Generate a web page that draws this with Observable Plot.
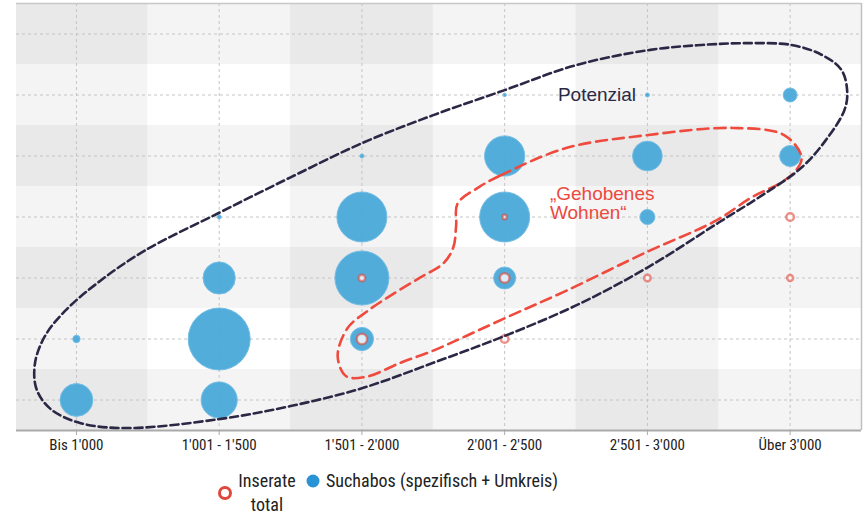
<!DOCTYPE html>
<html>
<head>
<meta charset="utf-8">
<script src="https://cdn.jsdelivr.net/npm/d3@7"></script>
<script src="https://cdn.jsdelivr.net/npm/@observablehq/plot@0.6"></script>
<style>
  body { margin: 0; background: #fff; }
  #chart { position: relative; width: 864px; height: 518px; overflow: hidden; }
  .narrow { font-family: "Roboto Condensed", "Liberation Sans Narrow", "Arial Narrow", "DejaVu Sans Condensed", sans-serif; font-stretch: condensed; }
  #legend { position: absolute; left: 0; top: 460px; width: 864px; height: 58px; color: #222; font-size: 18px; }
  #legend .item { position: absolute; line-height: 24px; }
</style>
</head>
<body>
<div id="chart"></div>
<script>
// Price bands (monthly rent, CHF) along the horizontal axis
const priceBands = ["Bis 1'000", "1'001 - 1'500", "1'501 - 2'000", "2'001 - 2'500", "2'501 - 3'000", "Über 3'000"];
// Size levels (rows), bottom to top
const levels = [1, 2, 3, 4, 5, 6, 7];

// Suchabos (specific + surrounding area): band index, level, count
const aboBand  = [0, 0, 1, 1, 1, 1, 2, 2, 2, 2, 3, 3, 3, 3, 4, 4, 4, 5, 5];
const aboLevel = [1, 2, 1, 2, 3, 4, 2, 3, 4, 5, 3, 4, 5, 6, 4, 5, 6, 5, 6];
const aboCount = [28, 1.4, 34, 100, 27, 0.42, 14, 76, 65, 0.42, 12.6, 65, 42, 0.3, 5.9, 23, 0.42, 11.5, 5.1];

// Inserate total: band index, level, count
const listBand  = [2, 2, 3, 3, 3, 4, 5, 5];
const listLevel = [2, 3, 2, 3, 4, 3, 3, 4];
const listCount = [2.8, 1.1, 1.5, 2.4, 0.5, 1.1, 0.9, 1.5];

// Outline of the "Potenzial" zone (band units, level units)
const potenzialX = [4.69, 5.01, 5.22, 5.36, 5.40, 5.38, 5.25, 5.08, 4.80, 4.50, 4.00, 3.50, 3.00, 2.50, 2.01, 1.50, 1.01, 0.36, 0.03, -0.18, -0.28, -0.29, -0.22, -0.08, 0.17, 0.48, 1.00, 1.50, 2.01, 2.50, 3.00, 3.50, 4.02, 4.38];
const potenzialY = [6.85, 6.82, 6.66, 6.41, 6.05, 5.75, 5.26, 4.81, 4.35, 3.91, 3.17, 2.55, 2.05, 1.61, 1.20, 0.90, 0.69, 0.54, 0.62, 0.85, 1.18, 1.61, 2.05, 2.46, 2.96, 3.45, 4.07, 4.65, 5.22, 5.67, 6.08, 6.49, 6.74, 6.82];

// Outline of the "Gehobenes Wohnen" zone
const gehobenX = [2.82, 2.97, 3.43, 3.99, 4.60, 4.96, 5.08, 5.04, 4.94, 4.73, 4.48, 3.99, 3.43, 3.01, 2.73, 2.50, 2.27, 2.03, 1.89, 1.83, 1.90, 2.04, 2.22, 2.41, 2.57, 2.64, 2.66, 2.67];
const gehobenY = [4.49, 4.68, 5.13, 5.34, 5.46, 5.34, 4.98, 4.76, 4.57, 4.32, 3.94, 3.42, 2.79, 2.35, 2.05, 1.81, 1.61, 1.38, 1.39, 1.72, 2.18, 2.46, 2.74, 3.01, 3.24, 3.50, 3.86, 4.22];

const abos = aboBand.map((b, i) => ({band: b, level: aboLevel[i], count: aboCount[i]}));
const listings = listBand.map((b, i) => ({band: b, level: listLevel[i], count: listCount[i]}));
const potenzial = potenzialX.map((x, i) => ({x, y: potenzialY[i]}));
const gehoben = gehobenX.map((x, i) => ({x, y: gehobenY[i]}));

const bandIdx = d3.range(priceBands.length);
const shadedBands = bandIdx.filter(i => i % 2 === 0).map(i => ({x1: i - 0.5, x2: i + 0.5}));
const shadedLevels = levels.filter(l => l % 2 === 1).map(l => ({y1: l - 0.5, y2: l + 0.5}));

const plot = Plot.plot({
  width: 864,
  height: 460,
  marginTop: 3,
  marginBottom: 30,
  marginLeft: 16,
  marginRight: 3,
  style: {background: "transparent", color: "#222"},
  x: {domain: [-0.42, 5.5], axis: null},
  y: {domain: [0.5, 7.5], axis: null},
  r: {type: "sqrt", domain: [0, 100], range: [0, 31]},
  marks: [
    Plot.rect(shadedBands, {x1: "x1", x2: "x2", fill: "#000", fillOpacity: 0.045, clip: true}),
    Plot.rect(shadedLevels, {y1: "y1", y2: "y2", fill: "#000", fillOpacity: 0.045, clip: true}),
    Plot.gridX(bandIdx, {stroke: "#c4c4c4", strokeOpacity: 1, strokeDasharray: "3,3"}),
    Plot.gridY(levels, {stroke: "#c4c4c4", strokeOpacity: 1, strokeDasharray: "3,3"}),
    Plot.ruleY([7.5], {stroke: "#c8c8c8", strokeWidth: 1.5}),
    Plot.ruleX([5.5], {stroke: "#c0c0c0", strokeWidth: 1.5}),
    Plot.ruleY([0.5], {stroke: "#aaa", strokeWidth: 2}),
    Plot.axisX(bandIdx, {
      tickFormat: i => priceBands[i],
      tickSize: 5,
      tickPadding: 4,
      stroke: "#aaa",
      fill: "#222",
      fontSize: 15,
      className: "narrow"
    }),
    Plot.dot(abos, {x: "band", y: "level", r: "count", fill: "#4aa9d9", fillOpacity: 0.95, stroke: "#74bde4", strokeWidth: 1}),
    Plot.dot(listings, {x: "band", y: "level", r: "count", stroke: "#e0473c", strokeOpacity: 0.6, strokeWidth: 2.5, fill: "#fff", fillOpacity: 0.8}),
    Plot.line(gehoben, {x: "x", y: "y", curve: "catmull-rom-closed", stroke: "#ef4a3e", strokeWidth: 2.6, strokeDasharray: "11,6"}),
    Plot.line(potenzial, {x: "x", y: "y", curve: "catmull-rom-closed", stroke: "#2b2846", strokeWidth: 2.6, strokeDasharray: "8,4"}),
    Plot.text(["Potenzial"], {x: 3.373, y: 6, textAnchor: "start", lineAnchor: "middle", fontSize: 19, fill: "#2b2846", fontFamily: "Liberation Sans, Arial, sans-serif"}),
    Plot.text(["\u201eGehobenes\nWohnen\u201c"], {x: 3.317, y: 4.22, textAnchor: "start", lineAnchor: "middle", lineHeight: 1, fontSize: 19, fill: "#ec4a3e", fontFamily: "Liberation Sans, Arial, sans-serif"})
  ]
});

const chart = document.getElementById("chart");
chart.appendChild(plot);

// Legend below the plot
const legend = document.createElement("div");
legend.id = "legend";
legend.className = "narrow";
legend.innerHTML = `
  <svg width="864" height="58" style="position:absolute;left:0;top:0">
    <circle cx="225" cy="33" r="5.5" fill="none" stroke="#e0473c" stroke-width="3"></circle>
    <circle cx="313" cy="21" r="6.5" fill="#2a93d5"></circle>
  </svg>
  <div class="item" style="left:234px;top:9px;width:66px;text-align:center">Inserate<br>total</div>
  <div class="item" style="left:326px;top:9px;white-space:nowrap">Suchabos (spezifisch + Umkreis)</div>
`;
chart.appendChild(legend);
</script>
</body>
</html>
